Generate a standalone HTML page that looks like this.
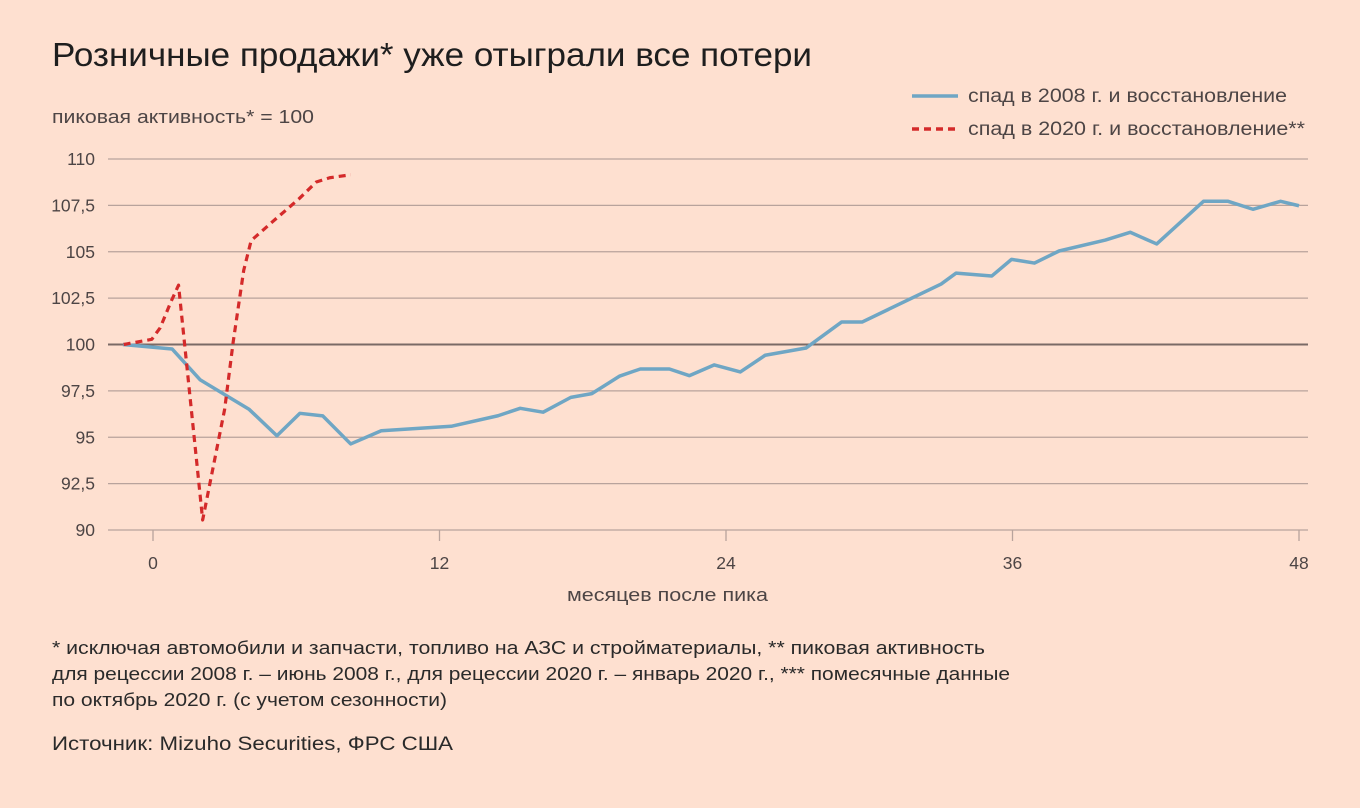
<!DOCTYPE html>
<html><head><meta charset="utf-8"><style>
html,body{margin:0;padding:0;background:#fee0d0;}
svg{display:block;font-family:"Liberation Sans","DejaVu Sans",sans-serif;}
</style></head><body>
<svg id="chart" width="1360" height="808" viewBox="0 0 1360 808">
<rect x="0" y="0" width="1360" height="808" fill="#fee0d0"/>
<text x="52" y="66" font-size="33" fill="#1e1e1e" textLength="760" lengthAdjust="spacingAndGlyphs">Розничные продажи* уже отыграли все потери</text>
<text x="52" y="123" font-size="18" fill="#4d4545" textLength="262" lengthAdjust="spacingAndGlyphs">пиковая активность* = 100</text>
<g>
<g>
<line x1="912" y1="96" x2="958" y2="96" stroke="#6fa6c4" stroke-width="3.5"/>
<text x="968" y="102" font-size="19" fill="#4d4545" textLength="319" lengthAdjust="spacingAndGlyphs">спад в 2008 г. и восстановление</text>
</g>
<g>
<line x1="912" y1="129" x2="958" y2="129" stroke="#d42a2a" stroke-width="3.5" stroke-dasharray="7,5"/>
<text x="968" y="135" font-size="19" fill="#4d4545" textLength="337" lengthAdjust="spacingAndGlyphs">спад в 2020 г. и восстановление**</text>
</g>
</g>
<g id="grid"></g>
<g id="series"></g>
<text x="567" y="601" font-size="18" fill="#4d4545" textLength="201" lengthAdjust="spacingAndGlyphs">месяцев после пика</text>
<g font-size="18.5" fill="#2a2a2a">
<text x="52" y="654" textLength="933" lengthAdjust="spacingAndGlyphs">* исключая автомобили и запчасти, топливо на АЗС и стройматериалы, ** пиковая активность</text>
<text x="52" y="680" textLength="958" lengthAdjust="spacingAndGlyphs">для рецессии 2008 г. – июнь 2008 г., для рецессии 2020 г. – январь 2020 г., *** помесячные данные</text>
<text x="52" y="706" textLength="395" lengthAdjust="spacingAndGlyphs">по октябрь 2020 г. (с учетом сезонности)</text>
</g>
<text x="52" y="750" font-size="19.5" fill="#2a2a2a" textLength="401" lengthAdjust="spacingAndGlyphs">Источник: Mizuho Securities, ФРС США</text>
</svg>
<script>
const yTicks = [90, 92.5, 95, 97.5, 100, 102.5, 105, 107.5, 110];
const yTickLabels = ["90", "92,5", "95", "97,5", "100", "102,5", "105", "107,5", "110"];
const xTicks = [0, 12, 24, 36, 48];
const xTickLabels = ["0", "12", "24", "36", "48"];
const months2008 = [-1.26,0.8,1.98,4.03,5.19,6.15,7.11,8.28,9.56,12.49,14.45,15.38,16.34,17.5,18.38,19.55,20.41,21.63,22.47,23.51,24.6,25.64,27.35,28.84,29.7,33.01,33.64,35.13,35.96,36.92,37.95,39.89,40.93,42.04,44.0,45.03,46.07,47.23,48.0];
const values2008 = [100,99.76,98.09,96.5,95.08,96.29,96.15,94.64,95.35,95.59,96.16,96.56,96.35,97.15,97.35,98.3,98.68,98.68,98.32,98.9,98.52,99.42,99.81,101.21,101.21,103.26,103.85,103.69,104.59,104.39,105.04,105.63,106.05,105.42,107.72,107.72,107.29,107.72,107.48];
const months2020 = [-1.23,-0.05,0.3,0.75,1.07,2.08,3.0,3.36,3.8,4.11,4.99,6.12,6.84,7.4,8.28];
const values2020 = [100,100.28,100.9,102.3,103.2,90.54,96.5,100.15,104.0,105.6,106.6,107.86,108.76,108.99,109.15];

const NS = "http://www.w3.org/2000/svg";
const xS = m => 153 + m * 23.875;
const yS = v => 344.5 - (v - 100) * 18.55;
const grid = document.getElementById('grid');
const series = document.getElementById('series');
function mk(tag, attrs, parent){const e=document.createElementNS(NS,tag);for(const k in attrs)e.setAttribute(k,attrs[k]);parent.appendChild(e);return e;}

yTicks.forEach((t,i)=>{
  const l = mk('line',{x1:108,x2:1308,y1:yS(t),y2:yS(t),stroke:t===100?'#7a6a66':'#b8a39c','stroke-width':t===100?2:1.3},grid);
  
  
  const tx = mk('text',{x:95,y:yS(t)+6,'text-anchor':'end','font-size':17.5,fill:'#4d4545'},grid);
  tx.textContent = yTickLabels[i];
  
  
});
xTicks.forEach((t,i)=>{
  const l = mk('line',{x1:xS(t),x2:xS(t),y1:530,y2:541,stroke:'#b8a39c','stroke-width':1.3},grid);
  
  
  const tx = mk('text',{x:xS(t),y:569,'text-anchor':'middle','font-size':17.5,fill:'#4d4545'},grid);
  tx.textContent = xTickLabels[i];
  
  
});
const p1 = mk('polyline',{points:months2008.map((m,i)=>xS(m)+','+yS(values2008[i])).join(' '),fill:'none',stroke:'#6fa6c4','stroke-width':3.5,'stroke-linejoin':'round'},series);


const p2 = mk('polyline',{points:months2020.map((m,i)=>xS(m)+','+yS(values2020[i])).join(' '),fill:'none',stroke:'#d42a2a','stroke-width':3.2,'stroke-dasharray':'7,5','stroke-linejoin':'round'},series);


</script>
</body></html>
